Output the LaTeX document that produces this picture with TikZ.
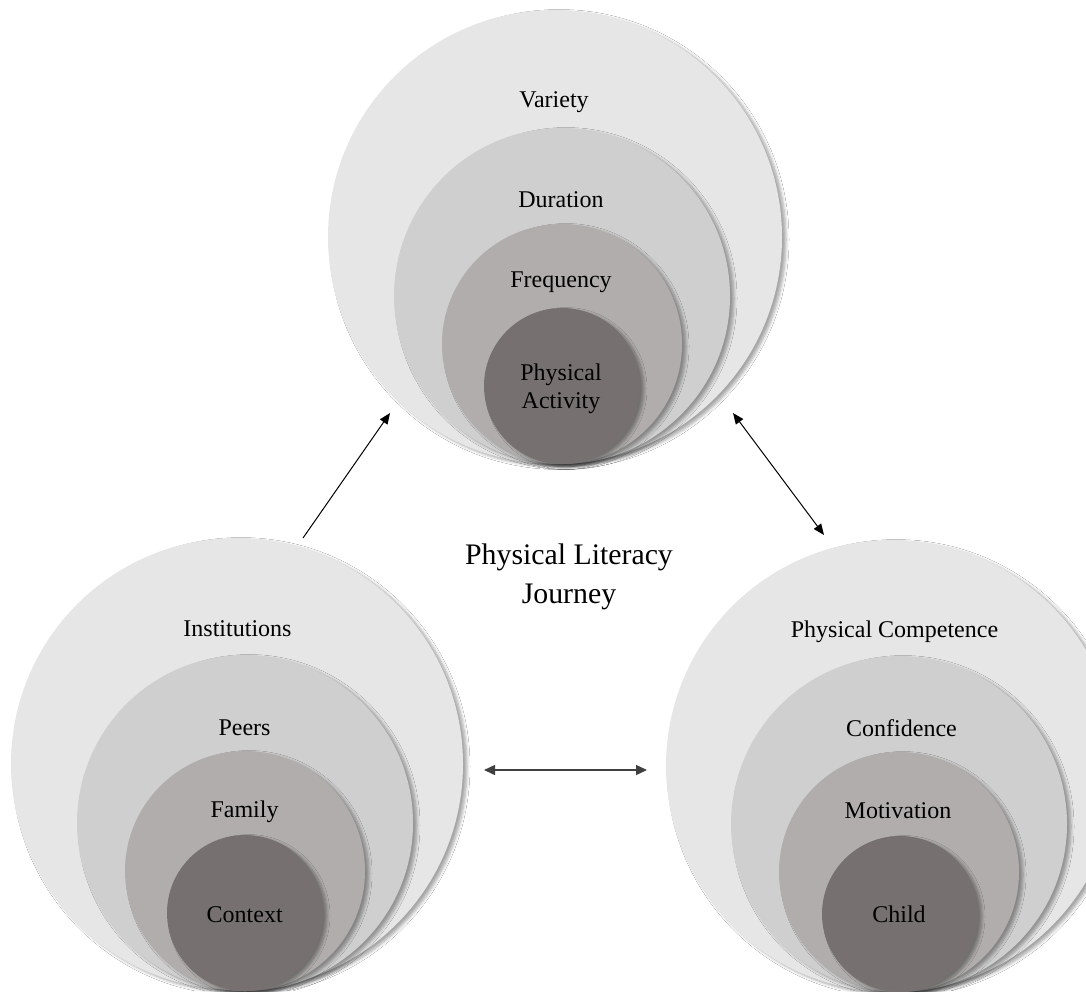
\documentclass[tikz,border=0pt]{standalone}
\usepackage{fontspec}
\setmainfont{Liberation Serif}
\usetikzlibrary{arrows.meta,shadows.blur}
\definecolor{ringA}{HTML}{E6E6E6}
\definecolor{ringB}{HTML}{D0CFCF}
\definecolor{ringC}{HTML}{B0ADAC}
\definecolor{ringD}{HTML}{767170}
\tikzset{
  ring/.style={blur shadow={shadow xshift=4pt, shadow yshift=-2.5pt, shadow blur steps=6, shadow opacity=35, shadow blur radius=3pt}},
  lbl/.style={anchor=base, inner sep=0pt, font=\fontsize{24}{28}\selectfont, text=black},
  conn/.style={line width=1pt, black}
}
\begin{document}
\begin{tikzpicture}[x=1pt,y=-1pt]
\useasboundingbox (0,0) rectangle (1086,991);
\clip (0,0) rectangle (1086,991);
\fill[white] (0,0) rectangle (1086,991);
% top group
\fill[ringA,ring] (555,237) circle (227);
\fill[ringB,ring] (562,296) circle (168);
\fill[ringC,ring] (562,344) circle (120);
\fill[ringD,ring] (562,386) circle (78);
\node[lbl] (variety) at (554,107) {Variety};
\node[lbl] (duration) at (561,207) {Duration};
\node[lbl] (frequency) at (561,287) {Frequency};
\node[lbl] (pa1) at (561,380) {Physical};
\node[lbl] (pa2) at (561,408) {Activity};
% bottom-left group
\fill[ringA,ring] (237,764) circle (226);
\fill[ringB,ring] (245,823) circle (168);
\fill[ringC,ring] (245,871) circle (120);
\fill[ringD,ring] (245,913) circle (78);
\node[lbl] (inst) at (237.5,636) {Institutions};
\node[lbl] (peers) at (244.5,735) {Peers};
\node[lbl] (family) at (244.5,817) {Family};
\node[lbl] (context) at (244.7,922) {Context};
% bottom-right group
\fill[ringA,ring] (892,766) circle (226);
\fill[ringB,ring] (899,824) circle (168);
\fill[ringC,ring] (899,872) circle (120);
\fill[ringD,ring] (900,914) circle (78);
\node[lbl] (pc) at (894.5,637) {Physical Competence};
\node[lbl] (conf) at (901.5,736) {Confidence};
\node[lbl] (motiv) at (898,818) {Motivation};
\node[lbl] (child) at (899,922) {Child};
% centre text
\node[anchor=base, inner sep=0pt, font=\fontsize{29.8}{39}\selectfont] (plj1) at (569,564) {Physical Literacy};
\node[anchor=base, inner sep=0pt, font=\fontsize{29.8}{39}\selectfont] (plj2) at (569,603) {Journey};
% connectors
\coordinate (a1s) at (303,538);
\coordinate (a1e) at (390,413);
\coordinate (a2s) at (733,413);
\coordinate (a2e) at (824,535);
\coordinate (a3s) at (484,770);
\coordinate (a3e) at (647,770);
\draw[conn,-{Triangle[length=11pt,width=9pt]}] (a1s) -- (a1e);
\draw[conn,{Triangle[length=11pt,width=9pt]}-{Triangle[length=11pt,width=9pt]}] (a2s) -- (a2e);
\draw[conn,line width=1.4pt,black!75,{Triangle[length=11pt,width=10pt]}-{Triangle[length=11pt,width=10pt]}] (a3s) -- (a3e);
\end{tikzpicture}
\end{document}
